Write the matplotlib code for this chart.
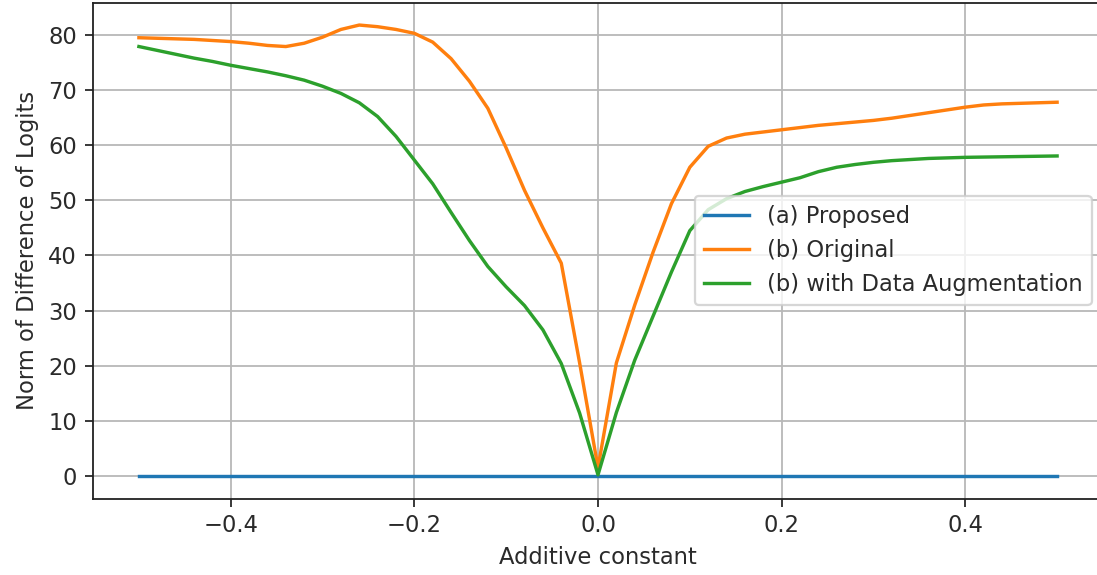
import numpy as np
import matplotlib
matplotlib.use("Agg")
import matplotlib.pyplot as plt

x_values = [-0.50, -0.48, -0.46, -0.44, -0.42, -0.40, -0.38, -0.36, -0.34, -0.32,
            -0.30, -0.28, -0.26, -0.24, -0.22, -0.20, -0.18, -0.16, -0.14, -0.12,
            -0.10, -0.08, -0.06, -0.04, -0.02, 0.00, 0.02, 0.04, 0.06, 0.08,
            0.10, 0.12, 0.14, 0.16, 0.18, 0.20, 0.22, 0.24, 0.26, 0.28,
            0.30, 0.32, 0.34, 0.36, 0.38, 0.40, 0.42, 0.44, 0.46, 0.48, 0.50]

proposed = [0.0] * 51

original = [79.5, 79.4, 79.3, 79.2, 79.0, 78.8, 78.5, 78.1, 77.9, 78.5,
            79.6, 81.0, 81.8, 81.5, 81.0, 80.3, 78.7, 75.7, 71.6, 66.7,
            59.5, 51.8, 45.0, 38.6, 20.5, 1.5, 20.5, 31.0, 40.6, 49.4,
            56.0, 59.8, 61.3, 62.0, 62.4, 62.8, 63.2, 63.6, 63.9, 64.2,
            64.5, 64.9, 65.4, 65.9, 66.4, 66.9, 67.3, 67.5, 67.6, 67.7, 67.8]

augmented = [77.9, 77.2, 76.5, 75.8, 75.2, 74.5, 73.9, 73.3, 72.6, 71.8,
             70.7, 69.4, 67.7, 65.2, 61.6, 57.3, 53.0, 47.8, 42.7, 38.0,
             34.3, 30.9, 26.5, 20.4, 11.4, 0.2, 11.5, 21.0, 29.0, 37.0,
             44.5, 48.3, 50.3, 51.6, 52.5, 53.3, 54.1, 55.2, 56.0, 56.5,
             56.9, 57.2, 57.4, 57.6, 57.7, 57.8, 57.85, 57.9, 57.95, 58.0, 58.05]

labels = ["(a) Proposed", "(b) Original", "(b) with Data Augmentation"]
x_label = "Additive constant"
y_label = "Norm of Difference of Logits"

text_color = "#2a2a2a"
plt.rcParams.update({
    "text.color": text_color,
    "axes.labelcolor": text_color,
    "xtick.color": text_color,
    "ytick.color": text_color,
    "axes.edgecolor": "#222222",
})

dpi = 163
fig = plt.figure(figsize=(1097 / dpi, 575 / dpi), dpi=dpi)
W, H = 1097, 575
left, right, bottom, top = 93, 1103, 498.5, 2.5
ax = fig.add_axes([left / W, (H - bottom) / H, (right - left) / W, (bottom - top) / H])

ax.plot(x_values, proposed, label=labels[0])
ax.plot(x_values, original, label=labels[1])
ax.plot(x_values, augmented, label=labels[2])

ax.set_xlabel(x_label)
ax.set_ylabel(y_label)
ax.grid(True, color="#b8b8b8")
ax.legend(loc="center right")

fig.savefig("out.png", dpi=dpi)
